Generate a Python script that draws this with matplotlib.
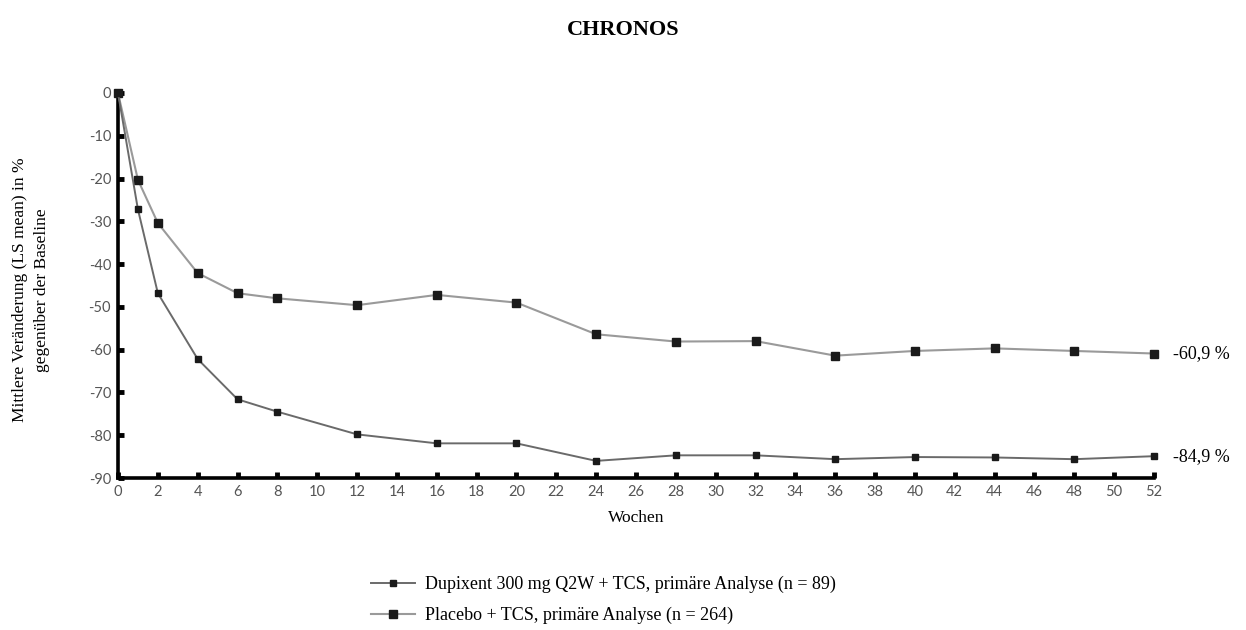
import matplotlib
matplotlib.use("Agg")
import matplotlib.pyplot as plt

# Wochen
wochen = [0, 1, 2, 4, 6, 8, 12, 16, 20, 24, 28, 32, 36, 40, 44, 48, 52]
dupixent = [0, -27.2, -46.8, -62.2, -71.6, -74.5, -79.8, -81.9, -81.9, -86.0, -84.7, -84.7, -85.6, -85.1, -85.2, -85.6, -84.9]
placebo = [0, -20.3, -30.4, -42.1, -46.8, -48.0, -49.6, -47.2, -49.0, -56.4, -58.1, -58.0, -61.4, -60.3, -59.7, -60.3, -60.9]

x_ticks = list(range(0, 53, 2))
y_ticks = list(range(0, -91, -10))
y_ticklabels = [str(v) for v in y_ticks]

label_dupi = "Dupixent 300 mg Q2W + TCS, primäre Analyse (n = 89)"
label_plac = "Placebo + TCS, primäre Analyse (n = 264)"
end_labels = ["-84,9 %", "-60,9 %"]

serif = "Liberation Serif"
tickfont = "Lato"

fig = plt.figure(figsize=(12.46, 6.30), dpi=100)
ax = fig.add_axes([118 / 1246, 1 - 478 / 630, (1154 - 118) / 1246, (478 - 93) / 630])

ax.plot(wochen, placebo, color="#9a9a9a", lw=1.5, marker="s", ms=6,
        mfc="#1a1a1a", mec="#1a1a1a", label=label_plac, clip_on=False, zorder=3)
ax.plot(wochen, dupixent, color="#6a6a6a", lw=1.4, marker="s", ms=4,
        mfc="#1a1a1a", mec="#1a1a1a", label=label_dupi, clip_on=False, zorder=3)

ax.set_xlim(0, 52)
ax.set_ylim(-90, 0)
ax.set_xticks(x_ticks)
ax.set_yticks(y_ticks)
ax.set_yticklabels(y_ticklabels)

for s in ["top", "right"]:
    ax.spines[s].set_visible(False)
for s in ["left", "bottom"]:
    ax.spines[s].set_linewidth(2.6)
    ax.spines[s].set_color("black")

ax.tick_params(direction="in", length=4, width=3.5, color="black",
               labelcolor="#555555", labelsize=10.5, pad=5)
for t in ax.get_xticklabels() + ax.get_yticklabels():
    t.set_fontfamily(tickfont)

# end values
ax.annotate(end_labels[0], (wochen[-1], dupixent[-1]), xytext=(14, 0),
            textcoords="offset points", va="center", ha="left",
            fontsize=13, family=serif, annotation_clip=False)
ax.annotate(end_labels[1], (wochen[-1], placebo[-1]), xytext=(14, 0),
            textcoords="offset points", va="center", ha="left",
            fontsize=13, family=serif, annotation_clip=False)

ax.set_xlabel("Wochen", fontsize=12.5, family=serif, labelpad=8)

fig.text(31 / 1246, 1 - 290 / 630,
         "Mittlere Veränderung (LS mean) in %\ngegenüber der Baseline",
         rotation=90, ha="center", va="center", multialignment="center",
         fontsize=12.5, family=serif, linespacing=1.5)

fig.text(0.5, 1 - 30 / 630, "CHRONOS", ha="center", va="center",
         fontsize=16, fontweight="bold", family=serif)

h, l = ax.get_legend_handles_labels()
fig.legend(h[::-1], l[::-1], loc="center left",
           bbox_to_anchor=(355 / 1246, 1 - 600 / 630), frameon=False,
           prop={"family": serif, "size": 13}, handlelength=2.4,
           labelspacing=0.75, handletextpad=0.6)

fig.savefig("out.png", dpi=100)
